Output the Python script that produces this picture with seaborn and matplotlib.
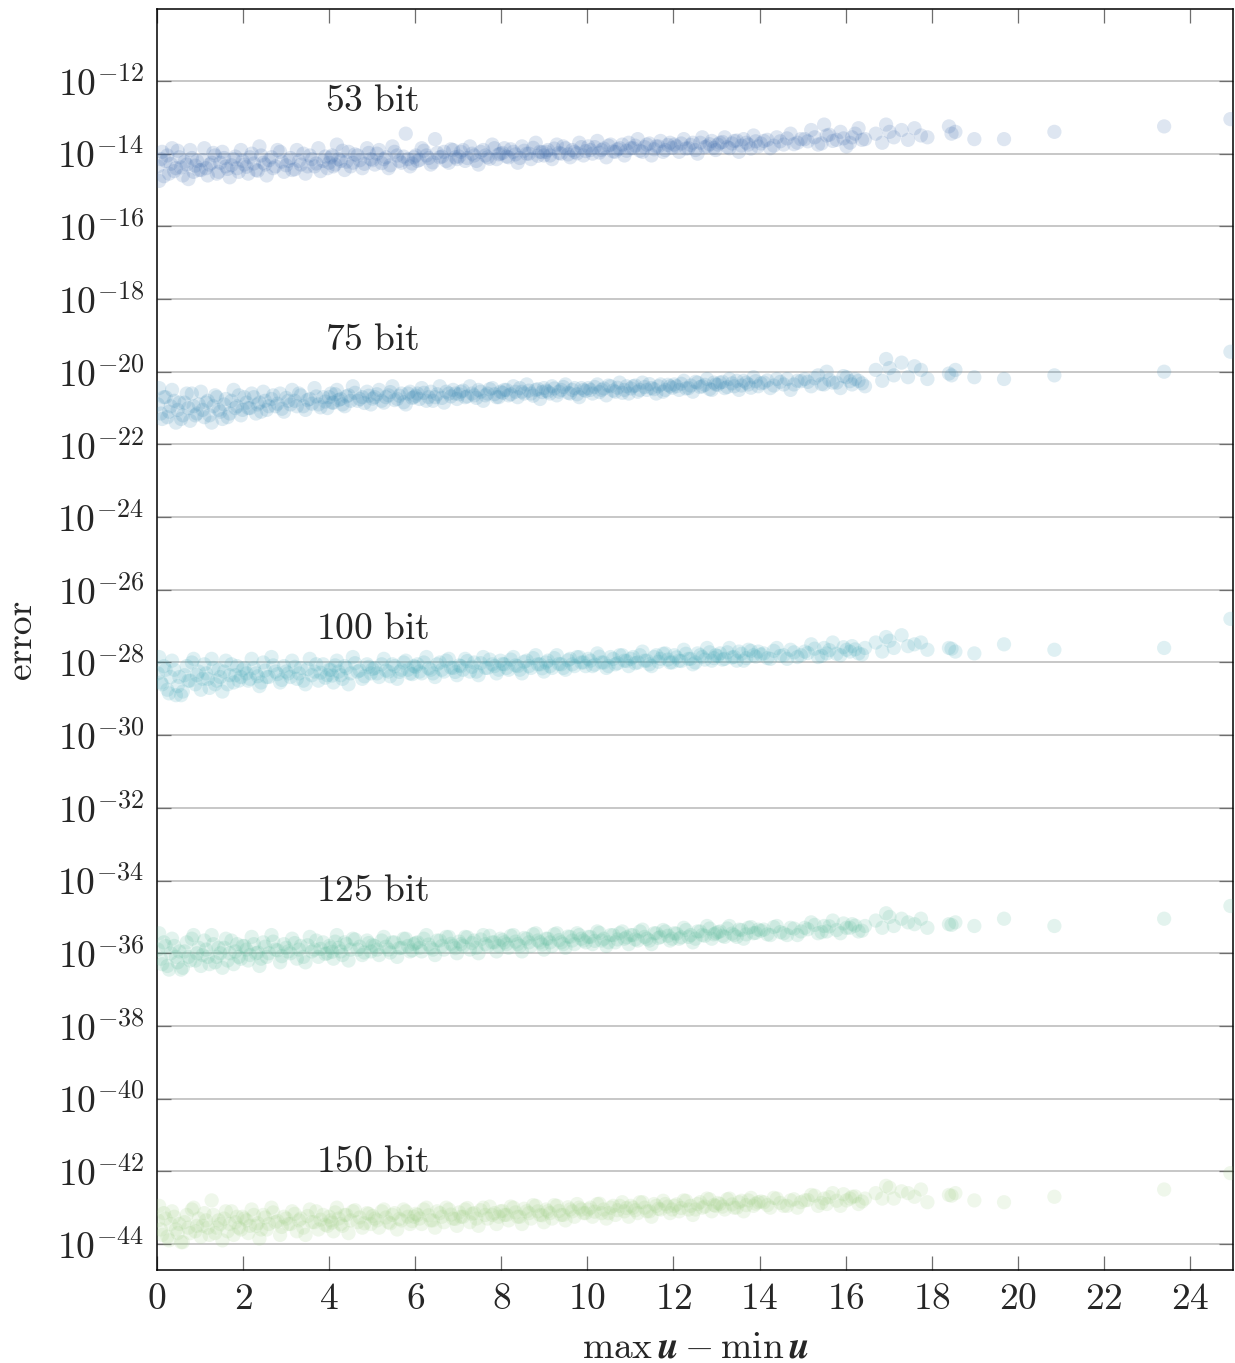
import numpy as np
import pandas as pd
import matplotlib
matplotlib.use("Agg")
import matplotlib.pyplot as plt
from matplotlib.ticker import FixedLocator, FuncFormatter
import seaborn as sns

# spread of the input, max(u) - min(u); first batch of runs
spread_a = [
    0.05, 0.12, 0.2, 0.28, 0.35, 0.44, 0.52, 0.6, 0.69, 0.77, 0.85, 0.93,
    1.02, 1.1, 1.18, 1.27, 1.35, 1.43, 1.52, 1.6, 1.69, 1.78, 1.86, 1.95,
    2.03, 2.12, 2.2, 2.3, 2.38, 2.47, 2.55, 2.66, 2.75, 2.86, 2.95,
    3.05, 3.14, 3.25, 3.34, 3.45, 3.55, 3.66, 3.75, 3.86, 3.96,
    4.04, 4.1, 4.18, 4.27, 4.36, 4.45, 4.55, 4.66, 4.77, 4.88, 4.97,
    5.06, 5.16, 5.27, 5.38, 5.47, 5.58, 5.68, 5.78, 5.88, 5.97,
    6.05, 6.15, 6.26, 6.36, 6.46, 6.57, 6.67, 6.78, 6.88, 6.97,
    7.06, 7.16, 7.27, 7.37, 7.47, 7.58, 7.68, 7.79, 7.89, 7.98,
    8.07, 8.17, 8.28, 8.38, 8.48, 8.59, 8.69, 8.8, 8.9, 8.99,
    9.08, 9.18, 9.29, 9.39, 9.49, 9.6, 9.7, 9.81, 9.91,
    10.02, 10.12, 10.23, 10.33, 10.44, 10.54, 10.65, 10.75, 10.86, 10.96,
    11.06, 11.17, 11.28, 11.38, 11.49, 11.6, 11.7, 11.81, 11.92,
    12.02, 12.13, 12.24, 12.35, 12.45, 12.56, 12.67, 12.78, 12.89, 12.98,
    13.08, 13.19, 13.3, 13.41, 13.52, 13.63, 13.74, 13.86, 13.97,
    14.1, 14.25, 14.4, 14.56, 14.72, 14.88,
    15.05, 15.2, 15.36, 15.5, 15.56, 15.7, 15.88, 16.02, 16.15, 16.3, 16.45,
    16.7, 16.94, 17.12, 17.3, 17.6, 17.9, 18.4, 18.55, 18.99, 19.68, 20.85, 23.4, 24.94,
]

# second batch of runs
spread_b = [
    0.02, 0.09, 0.16, 0.24, 0.32, 0.4, 0.48, 0.56, 0.64, 0.73, 0.81, 0.89, 0.97,
    1.06, 1.14, 1.22, 1.31, 1.39, 1.47, 1.56, 1.64, 1.73, 1.82, 1.9, 1.99,
    2.08, 2.16, 2.25, 2.34, 2.42, 2.51, 2.6, 2.7, 2.8, 2.9,
    3.0, 3.1, 3.2, 3.3, 3.4, 3.5, 3.6, 3.7, 3.8, 3.91,
    4.0, 4.07, 4.14, 4.22, 4.31, 4.4, 4.5, 4.6, 4.71, 4.82, 4.92,
    5.01, 5.11, 5.22, 5.32, 5.42, 5.52, 5.63, 5.73, 5.83, 5.93,
    6.01, 6.1, 6.2, 6.31, 6.41, 6.51, 6.62, 6.72, 6.83, 6.93,
    7.02, 7.11, 7.21, 7.32, 7.42, 7.52, 7.63, 7.73, 7.84, 7.94,
    8.03, 8.12, 8.22, 8.33, 8.43, 8.53, 8.64, 8.74, 8.85, 8.95,
    9.04, 9.13, 9.23, 9.34, 9.44, 9.55, 9.65, 9.76, 9.86, 9.96,
    10.07, 10.17, 10.28, 10.38, 10.49, 10.6, 10.7, 10.81, 10.91,
    11.01, 11.11, 11.22, 11.33, 11.44, 11.55, 11.65, 11.76, 11.87, 11.97,
    12.07, 12.18, 12.29, 12.4, 12.51, 12.62, 12.73, 12.84, 12.94,
    13.03, 13.14, 13.25, 13.36, 13.47, 13.58, 13.69, 13.8, 13.91,
    14.03, 14.18, 14.33, 14.48, 14.64, 14.8, 14.96,
    15.12, 15.28, 15.44, 15.62, 15.79, 15.95, 16.1, 16.22, 16.38,
    16.85, 17.02, 17.45, 17.75, 18.46,
]

# log10 of the error, first batch
log_err_53_a = [
    -14.75, -13.95, -14.2, -14.55, -13.85, -14.4, -14.1, -14.6, -14.3, -13.9, -14.5, -14.2,
    -14.45, -13.85, -14.6, -14.25, -14.05, -14.5, -13.95, -14.35, -14.65, -14.15, -14.4, -13.9,
    -14.3, -14.55, -14.0, -14.45, -13.8, -14.25, -14.6, -14.1, -14.35, -13.95, -14.5,
    -14.2, -14.45, -13.9, -14.3, -14.55, -14.05, -14.35, -13.85, -14.2, -14.4,
    -14.1, -14.35, -13.75, -14.2, -14.45, -13.95, -14.25, -14.05, -14.4, -13.85, -14.15,
    -14.3, -13.9, -14.15, -14.4, -13.8, -14.05, -14.25, -13.45, -14.35, -14.1,
    -14.2, -13.85, -14.05, -14.3, -13.6, -14.1, -13.95, -14.25, -13.9, -14.15,
    -13.95, -14.2, -13.8, -14.05, -14.3, -13.9, -14.1, -13.75, -14.15, -14.0,
    -13.85, -14.1, -13.95, -14.25, -13.8, -14.0, -14.15, -13.7, -13.95, -14.05,
    -13.9, -14.15, -13.75, -14.0, -13.85, -14.1, -13.95, -13.7, -14.05,
    -13.8, -14.0, -13.65, -13.9, -14.1, -13.75, -13.95, -13.85, -14.05, -13.7,
    -13.85, -13.6, -13.95, -13.75, -14.05, -13.8, -13.65, -13.9, -13.7,
    -13.75, -13.95, -13.6, -13.85, -13.7, -14.0, -13.55, -13.8, -13.65, -13.9,
    -13.7, -13.55, -13.85, -13.65, -13.95, -13.6, -13.75, -13.5, -13.8,
    -13.65, -13.85, -13.55, -13.75, -13.45, -13.7,
    -13.6, -13.35, -13.75, -13.2, -13.5, -13.65, -13.4, -13.8, -13.55, -13.3, -13.6,
    -13.45, -13.2, -13.55, -13.35, -13.3, -13.55, -13.25, -13.4, -13.6, -13.6, -13.4, -13.25, -13.05,
]
log_err_53_b = [
    -14.35, -14.15, -14.62, -14.05, -14.28, -14.48, -13.92, -14.38, -14.22, -14.7, -14.12, -14.33, -14.45,
    -14.18, -14.4, -14.3, -13.98, -14.55, -14.25, -14.12, -14.42, -14.32, -14.08, -14.5, -14.2,
    -14.36, -14.1, -14.27, -14.47, -14.05, -14.3, -14.18, -14.4, -13.9, -14.22,
    -14.32, -14.12, -14.43, -14.2, -14.0, -14.35, -14.15, -14.27, -14.48, -14.08,
    -14.25, -14.05, -14.3, -14.15, -13.92, -14.22, -14.35, -14.02, -14.18, -14.28, -13.98,
    -14.18, -14.0, -14.26, -14.1, -14.32, -13.95, -14.2, -14.08, -14.15, -14.27,
    -14.05, -14.17, -13.92, -14.12, -14.24, -13.98, -14.08, -14.2, -13.88, -14.1,
    -14.08, -13.9, -14.12, -14.0, -14.2, -13.95, -14.05, -14.14, -13.85, -14.02,
    -13.98, -14.08, -13.88, -14.02, -14.12, -13.92, -14.0, -13.84, -14.06, -13.96,
    -13.95, -14.05, -13.86, -13.98, -13.8, -14.02, -13.9, -13.99, -13.82, -13.93,
    -13.9, -13.82, -13.97, -13.86, -13.78, -13.94, -13.88, -13.75, -13.92,
    -13.85, -13.78, -13.92, -13.82, -13.72, -13.88, -13.8, -13.95, -13.76, -13.84,
    -13.8, -13.72, -13.86, -13.76, -13.9, -13.7, -13.82, -13.74, -13.84,
    -13.75, -13.68, -13.82, -13.72, -13.64, -13.78, -13.7, -13.86, -13.66,
    -13.72, -13.62, -13.78, -13.66, -13.58, -13.74, -13.6,
    -13.66, -13.55, -13.72, -13.48, -13.62, -13.58, -13.7, -13.45, -13.62,
    -13.7, -13.4, -13.62, -13.5, -13.45,
]

log_err_75_a = [
    -20.45, -21.3, -20.7, -21.1, -20.5, -21.4, -20.85, -21.2, -20.6, -21.35, -20.95, -21.15,
    -20.55, -21.25, -20.8, -21.4, -20.65, -21.05, -21.3, -20.75, -21.15, -20.5, -20.95, -21.2,
    -20.7, -21.0, -20.6, -21.15, -20.85, -20.55, -21.05, -20.75, -20.95, -20.6, -21.1,
    -20.8, -20.5, -20.95, -20.65, -21.05, -20.75, -20.45, -20.9, -20.7, -21.0,
    -20.6, -20.85, -20.5, -20.75, -20.95, -20.65, -20.4, -20.8, -20.7, -20.55, -20.9,
    -20.7, -20.5, -20.85, -20.65, -20.4, -20.75, -20.6, -20.9, -20.55, -20.7,
    -20.6, -20.45, -20.8, -20.55, -20.7, -20.4, -20.85, -20.6, -20.5, -20.75,
    -20.55, -20.7, -20.4, -20.65, -20.5, -20.8, -20.6, -20.45, -20.7, -20.55,
    -20.5, -20.65, -20.4, -20.7, -20.55, -20.35, -20.6, -20.5, -20.75, -20.45,
    -20.55, -20.4, -20.65, -20.5, -20.35, -20.6, -20.45, -20.7, -20.5,
    -20.45, -20.6, -20.35, -20.5, -20.65, -20.4, -20.55, -20.3, -20.5, -20.6,
    -20.4, -20.55, -20.3, -20.5, -20.45, -20.6, -20.35, -20.5, -20.4,
    -20.35, -20.5, -20.25, -20.45, -20.55, -20.3, -20.4, -20.2, -20.5, -20.35,
    -20.3, -20.45, -20.2, -20.4, -20.5, -20.25, -20.35, -20.15, -20.4,
    -20.3, -20.45, -20.2, -20.35, -20.5, -20.25,
    -20.2, -20.4, -20.1, -20.35, -20.0, -20.3, -20.45, -20.15, -20.35, -20.25, -20.4,
    -19.95, -19.65, -20.1, -19.75, -19.85, -20.2, -20.05, -19.95, -20.15, -20.2, -20.1, -20.0, -19.45,
]
log_err_75_b = [
    -20.9, -21.15, -20.7, -21.25, -20.95, -20.8, -21.05, -21.3, -20.85, -21.0, -20.6, -21.2, -20.9,
    -21.05, -20.85, -21.2, -20.95, -20.7, -21.1, -20.9, -21.25, -20.8, -21.0, -20.65, -21.05,
    -20.85, -21.0, -20.7, -20.9, -21.1, -20.8, -20.95, -20.65, -20.88, -21.02,
    -20.72, -20.9, -20.8, -20.6, -20.95, -20.78, -20.88, -20.68, -20.98, -20.82,
    -20.7, -20.85, -20.62, -20.78, -20.9, -20.68, -20.8, -20.58, -20.75, -20.86, -20.66,
    -20.74, -20.62, -20.8, -20.7, -20.56, -20.78, -20.66, -20.84, -20.6, -20.72,
    -20.66, -20.75, -20.58, -20.7, -20.8, -20.62, -20.72, -20.55, -20.68, -20.6,
    -20.62, -20.52, -20.68, -20.6, -20.72, -20.55, -20.65, -20.48, -20.62, -20.7,
    -20.58, -20.5, -20.62, -20.55, -20.45, -20.6, -20.52, -20.66, -20.48, -20.56,
    -20.52, -20.6, -20.46, -20.55, -20.42, -20.58, -20.5, -20.62, -20.45, -20.53,
    -20.5, -20.42, -20.56, -20.46, -20.38, -20.52, -20.44, -20.58, -20.4,
    -20.46, -20.38, -20.5, -20.42, -20.34, -20.48, -20.4, -20.55, -20.36, -20.44,
    -20.4, -20.33, -20.46, -20.38, -20.28, -20.42, -20.36, -20.48, -20.3,
    -20.36, -20.28, -20.42, -20.32, -20.25, -20.38, -20.3, -20.44, -20.26,
    -20.32, -20.24, -20.38, -20.28, -20.2, -20.35, -20.26,
    -20.28, -20.18, -20.34, -20.22, -20.3, -20.12, -20.26, -20.2, -20.32,
    -20.25, -19.9, -20.15, -19.95, -20.1,
]

log_err_100_a = [
    -27.85, -28.6, -28.2, -28.85, -27.95, -28.9, -28.4, -28.8, -28.1, -28.5, -27.9, -28.35,
    -28.75, -28.05, -28.45, -27.9, -28.6, -28.2, -28.8, -27.95, -28.35, -28.55, -28.1, -28.4,
    -28.15, -28.5, -27.9, -28.3, -28.65, -28.0, -28.4, -27.85, -28.25, -28.55, -28.1,
    -28.3, -27.95, -28.45, -28.15, -28.6, -27.9, -28.25, -28.5, -28.05, -28.35,
    -28.2, -28.55, -27.95, -28.35, -28.1, -28.6, -27.85, -28.25, -28.45, -28.05, -28.3,
    -28.15, -28.4, -27.9, -28.25, -28.05, -28.45, -28.2, -27.95, -28.3, -28.1,
    -28.05, -28.3, -27.85, -28.2, -28.4, -28.0, -28.25, -27.9, -28.15, -28.35,
    -28.1, -27.9, -28.25, -28.0, -28.35, -27.85, -28.15, -28.05, -28.3, -27.95,
    -28.05, -28.2, -27.85, -28.1, -28.3, -27.95, -28.15, -27.8, -28.05, -28.25,
    -27.95, -28.15, -27.8, -28.05, -28.2, -27.9, -28.1, -27.85, -28.0,
    -27.9, -28.1, -27.75, -28.0, -28.15, -27.85, -28.05, -27.8, -27.95, -28.1,
    -27.85, -28.0, -27.7, -27.95, -28.1, -27.8, -27.9, -27.75, -28.0,
    -27.8, -27.95, -27.65, -27.9, -28.05, -27.75, -27.85, -27.6, -27.95, -27.8,
    -27.75, -27.9, -27.6, -27.85, -27.7, -27.95, -27.65, -27.8, -27.7,
    -27.75, -27.9, -27.6, -27.8, -27.65, -27.85,
    -27.7, -27.5, -27.85, -27.6, -27.75, -27.45, -27.8, -27.65, -27.55, -27.75, -27.6,
    -27.45, -27.3, -27.6, -27.25, -27.5, -27.65, -27.6, -27.7, -27.75, -27.5, -27.65, -27.6, -26.8,
]
log_err_100_b = [
    -28.3, -28.55, -28.1, -28.75, -28.4, -28.2, -28.65, -28.9, -28.35, -28.5, -28.0, -28.6, -28.25,
    -28.45, -28.3, -28.7, -28.15, -28.5, -28.4, -28.25, -28.6, -28.05, -28.35, -28.5, -28.2,
    -28.3, -28.45, -28.15, -28.38, -28.55, -28.22, -28.4, -28.08, -28.32, -28.48,
    -28.25, -28.4, -28.12, -28.3, -28.5, -28.18, -28.35, -28.05, -28.28, -28.42,
    -28.2, -28.36, -28.08, -28.25, -28.45, -28.15, -28.3, -28.02, -28.22, -28.38, -28.12,
    -28.18, -28.3, -28.05, -28.22, -28.38, -28.1, -28.26, -28.0, -28.2, -28.32,
    -28.12, -28.25, -28.0, -28.16, -28.3, -28.05, -28.2, -27.95, -28.14, -28.26,
    -28.08, -28.2, -27.96, -28.12, -28.25, -28.02, -28.15, -27.92, -28.1, -28.2,
    -28.04, -28.15, -27.92, -28.08, -28.2, -27.98, -28.1, -27.88, -28.05, -28.16,
    -28.0, -28.1, -27.88, -28.04, -28.15, -27.94, -28.05, -27.85, -28.0, -28.1,
    -27.95, -28.06, -27.84, -28.0, -28.1, -27.9, -28.02, -27.8, -27.96,
    -27.9, -28.02, -27.8, -27.95, -28.05, -27.85, -27.98, -27.76, -27.92, -28.0,
    -27.86, -27.96, -27.76, -27.9, -28.0, -27.8, -27.92, -27.72, -27.88,
    -27.82, -27.92, -27.72, -27.86, -27.95, -27.76, -27.88, -27.68, -27.84,
    -27.78, -27.88, -27.68, -27.82, -27.9, -27.72, -27.8,
    -27.74, -27.62, -27.82, -27.66, -27.76, -27.58, -27.7, -27.64, -27.78,
    -27.7, -27.4, -27.55, -27.45, -27.62,
]

log_err_125_a = [
    -35.45, -36.3, -35.8, -36.45, -35.6, -36.1, -35.95, -36.4, -35.7, -36.2, -35.5, -36.0,
    -36.35, -35.65, -36.1, -35.5, -36.25, -35.85, -36.4, -35.6, -36.0, -36.3, -35.75, -36.15,
    -35.8, -36.2, -35.55, -36.0, -36.35, -35.7, -36.1, -35.5, -35.9, -36.25, -35.75,
    -35.95, -35.6, -36.15, -35.8, -36.25, -35.55, -35.9, -36.1, -35.7, -36.0,
    -35.85, -36.15, -35.5, -35.95, -35.7, -36.2, -35.6, -35.9, -36.05, -35.65, -35.95,
    -35.8, -36.05, -35.55, -35.9, -35.7, -36.1, -35.85, -35.6, -35.95, -35.75,
    -35.7, -35.95, -35.5, -35.85, -36.05, -35.65, -35.9, -35.55, -35.8, -36.0,
    -35.75, -35.55, -35.9, -35.65, -36.0, -35.5, -35.8, -35.7, -35.95, -35.6,
    -35.7, -35.85, -35.5, -35.75, -35.95, -35.6, -35.8, -35.45, -35.7, -35.9,
    -35.6, -35.8, -35.45, -35.7, -35.85, -35.55, -35.75, -35.5, -35.65,
    -35.55, -35.75, -35.4, -35.65, -35.8, -35.5, -35.7, -35.45, -35.6, -35.75,
    -35.5, -35.65, -35.35, -35.6, -35.75, -35.45, -35.55, -35.4, -35.65,
    -35.45, -35.6, -35.3, -35.55, -35.7, -35.4, -35.5, -35.25, -35.6, -35.45,
    -35.4, -35.55, -35.25, -35.5, -35.35, -35.6, -35.3, -35.45, -35.35,
    -35.35, -35.5, -35.25, -35.45, -35.3, -35.5,
    -35.3, -35.15, -35.45, -35.25, -35.4, -35.1, -35.45, -35.3, -35.2, -35.4, -35.25,
    -35.1, -34.9, -35.25, -35.05, -35.2, -35.3, -35.2, -35.15, -35.25, -35.05, -35.25, -35.05, -34.7,
]
log_err_125_b = [
    -35.9, -36.15, -35.7, -36.35, -36.0, -35.8, -36.25, -36.45, -35.95, -36.1, -35.6, -36.2, -35.85,
    -36.05, -35.9, -36.3, -35.75, -36.1, -36.0, -35.85, -36.2, -35.65, -35.95, -36.1, -35.8,
    -35.9, -36.05, -35.75, -35.98, -36.15, -35.82, -36.0, -35.68, -35.92, -36.08,
    -35.85, -36.0, -35.72, -35.9, -36.1, -35.78, -35.95, -35.65, -35.88, -36.02,
    -35.8, -35.96, -35.68, -35.85, -36.05, -35.75, -35.9, -35.62, -35.82, -35.98, -35.72,
    -35.78, -35.9, -35.65, -35.82, -35.98, -35.7, -35.86, -35.6, -35.8, -35.92,
    -35.72, -35.85, -35.6, -35.76, -35.9, -35.65, -35.8, -35.55, -35.74, -35.86,
    -35.68, -35.8, -35.56, -35.72, -35.85, -35.62, -35.75, -35.52, -35.7, -35.8,
    -35.64, -35.75, -35.52, -35.68, -35.8, -35.58, -35.7, -35.48, -35.65, -35.76,
    -35.6, -35.7, -35.48, -35.64, -35.75, -35.54, -35.65, -35.45, -35.6, -35.7,
    -35.55, -35.66, -35.44, -35.6, -35.7, -35.5, -35.62, -35.4, -35.56,
    -35.5, -35.62, -35.4, -35.55, -35.65, -35.45, -35.58, -35.36, -35.52, -35.6,
    -35.46, -35.56, -35.36, -35.5, -35.6, -35.4, -35.52, -35.32, -35.48,
    -35.42, -35.52, -35.32, -35.46, -35.55, -35.36, -35.48, -35.28, -35.44,
    -35.38, -35.48, -35.28, -35.42, -35.5, -35.32, -35.4,
    -35.34, -35.22, -35.42, -35.26, -35.36, -35.18, -35.3, -35.24, -35.38,
    -35.3, -35.0, -35.15, -35.05, -35.22,
]

log_err_150_a = [
    -42.95, -43.75, -43.3, -43.9, -43.1, -43.6, -43.45, -43.95, -43.2, -43.7, -43.0, -43.5,
    -43.8, -43.15, -43.55, -42.8, -43.7, -43.35, -43.9, -43.1, -43.45, -43.75, -43.25, -43.6,
    -43.3, -43.7, -43.05, -43.5, -43.85, -43.2, -43.6, -43.0, -43.4, -43.75, -43.25,
    -43.45, -43.1, -43.65, -43.3, -43.75, -43.05, -43.4, -43.6, -43.2, -43.5,
    -43.35, -43.65, -43.0, -43.45, -43.2, -43.7, -43.1, -43.4, -43.55, -43.15, -43.45,
    -43.3, -43.55, -43.05, -43.4, -43.2, -43.6, -43.35, -43.1, -43.45, -43.25,
    -43.2, -43.45, -43.0, -43.35, -43.55, -43.15, -43.4, -43.05, -43.3, -43.5,
    -43.25, -43.05, -43.4, -43.15, -43.5, -43.0, -43.3, -43.2, -43.45, -43.1,
    -43.2, -43.35, -43.0, -43.25, -43.45, -43.1, -43.3, -42.95, -43.2, -43.4,
    -43.1, -43.3, -42.95, -43.2, -43.35, -43.05, -43.25, -43.0, -43.15,
    -43.05, -43.25, -42.9, -43.15, -43.3, -43.0, -43.2, -42.95, -43.1, -43.25,
    -43.0, -43.15, -42.85, -43.1, -43.25, -42.95, -43.05, -42.9, -43.15,
    -42.95, -43.1, -42.8, -43.05, -43.2, -42.9, -43.0, -42.75, -43.1, -42.95,
    -42.9, -43.05, -42.75, -43.0, -42.85, -43.1, -42.8, -42.95, -42.85,
    -42.85, -43.0, -42.75, -42.95, -42.8, -43.0,
    -42.8, -42.65, -42.95, -42.75, -42.9, -42.6, -42.95, -42.8, -42.7, -42.9, -42.75,
    -42.6, -42.4, -42.75, -42.55, -42.7, -42.85, -42.65, -42.6, -42.8, -42.85, -42.7, -42.5, -42.05,
]
log_err_150_b = [
    -43.35, -43.6, -43.15, -43.8, -43.45, -43.25, -43.7, -43.95, -43.4, -43.55, -43.05, -43.65, -43.3,
    -43.5, -43.35, -43.75, -43.2, -43.55, -43.45, -43.3, -43.65, -43.1, -43.4, -43.55, -43.25,
    -43.35, -43.5, -43.2, -43.43, -43.6, -43.27, -43.45, -43.13, -43.37, -43.53,
    -43.3, -43.45, -43.17, -43.35, -43.55, -43.23, -43.4, -43.1, -43.33, -43.47,
    -43.25, -43.41, -43.13, -43.3, -43.5, -43.2, -43.35, -43.07, -43.27, -43.43, -43.17,
    -43.23, -43.35, -43.1, -43.27, -43.43, -43.15, -43.31, -43.05, -43.25, -43.37,
    -43.17, -43.3, -43.05, -43.21, -43.35, -43.1, -43.25, -43.0, -43.19, -43.31,
    -43.13, -43.25, -43.01, -43.17, -43.3, -43.07, -43.2, -42.97, -43.15, -43.25,
    -43.09, -43.2, -42.97, -43.13, -43.25, -43.03, -43.15, -42.93, -43.1, -43.21,
    -43.05, -43.15, -42.93, -43.09, -43.2, -42.99, -43.1, -42.9, -43.05, -43.15,
    -43.0, -43.11, -42.89, -43.05, -43.15, -42.95, -43.07, -42.85, -43.01,
    -42.95, -43.07, -42.85, -43.0, -43.1, -42.9, -43.03, -42.81, -42.97, -43.05,
    -42.91, -43.01, -42.81, -42.95, -43.05, -42.85, -42.97, -42.77, -42.93,
    -42.87, -42.97, -42.77, -42.91, -43.0, -42.81, -42.93, -42.73, -42.89,
    -42.83, -42.93, -42.73, -42.87, -42.95, -42.77, -42.85,
    -42.79, -42.67, -42.87, -42.71, -42.81, -42.63, -42.75, -42.69, -42.83,
    -42.75, -42.45, -42.6, -42.5, -42.67,
]

precisions = ["53 bit", "75 bit", "100 bit", "125 bit", "150 bit"]
series_colors = ["#3e6cae", "#3d8bb5", "#46a8b8", "#5dbb9c", "#a2d18a"]
label_x = [5.0, 5.0, 5.0, 5.0, 5.0]
label_log_y = [-12.55, -19.15, -27.1, -34.3, -41.75]

y_tick_exponents = list(range(-12, -45, -2))
x_ticks = list(range(0, 25, 2))

runs = [
    (log_err_53_a, log_err_53_b),
    (log_err_75_a, log_err_75_b),
    (log_err_100_a, log_err_100_b),
    (log_err_125_a, log_err_125_b),
    (log_err_150_a, log_err_150_b),
]
frames = []
for name, (logs_a, logs_b) in zip(precisions, runs):
    for xs, logs in ((spread_a, logs_a), (spread_b, logs_b)):
        frames.append(pd.DataFrame({
            "spread": xs,
            "error": np.power(10.0, np.asarray(logs)),
            "precision": name,
        }))
data = pd.concat(frames, ignore_index=True)

sns.set_theme(style="white")
plt.rcParams["font.family"] = "serif"
plt.rcParams["font.serif"] = ["cmr10", "DejaVu Serif"]
plt.rcParams["mathtext.fontset"] = "cm"
plt.rcParams["axes.formatter.use_mathtext"] = True

fig = plt.figure(figsize=(12.35, 13.63), dpi=100)
ax = fig.add_axes([157 / 1235, 1 - 1270 / 1363, (1233 - 157) / 1235, (1270 - 9) / 1363])

sns.scatterplot(
    data=data, x="spread", y="error", hue="precision",
    palette=dict(zip(precisions, series_colors)),
    s=105, alpha=0.17, linewidth=0, legend=False, ax=ax, zorder=3,
)

ax.set_yscale("log")
ax.set_xlim(0, 25)
ax.set_ylim(10.0 ** -44.715, 10.0 ** -10.02)

ax.yaxis.set_major_locator(FixedLocator([10.0 ** e for e in y_tick_exponents]))
ax.yaxis.set_minor_locator(FixedLocator([]))
ax.yaxis.set_major_formatter(
    FuncFormatter(lambda v, p: r"$10^{%d}$" % int(round(np.log10(v))))
)
ax.xaxis.set_major_locator(FixedLocator(x_ticks))
ax.xaxis.set_major_formatter(FuncFormatter(lambda v, p: r"$%d$" % int(round(v))))

ax.yaxis.grid(True, color="#bdbdbd", linewidth=1.2, zorder=0)
ax.xaxis.grid(False)
ax.set_axisbelow(True)

ax.tick_params(axis="both", which="major", direction="in", labelsize=27,
               length=10, width=0.9, color="#6e6e6e", pad=9)
ax.tick_params(axis="x", top=True, bottom=True)
ax.tick_params(axis="y", left=True, right=True)

for spine in ax.spines.values():
    spine.set_color("black")
    spine.set_linewidth(1.1)

for name, lx, ly in zip(precisions, label_x, label_log_y):
    ax.text(lx, 10.0 ** ly, r"$\mathrm{%s}$" % name.replace(" ", r"\ "),
            fontsize=27, ha="center", va="center", zorder=4)

ax.set_xlabel(r"$\max\,\boldsymbol{u}-\min\,\boldsymbol{u}$", fontsize=27, labelpad=11)
ax.set_ylabel("error", fontsize=27, labelpad=14)

fig.savefig("out.png", dpi=100)
